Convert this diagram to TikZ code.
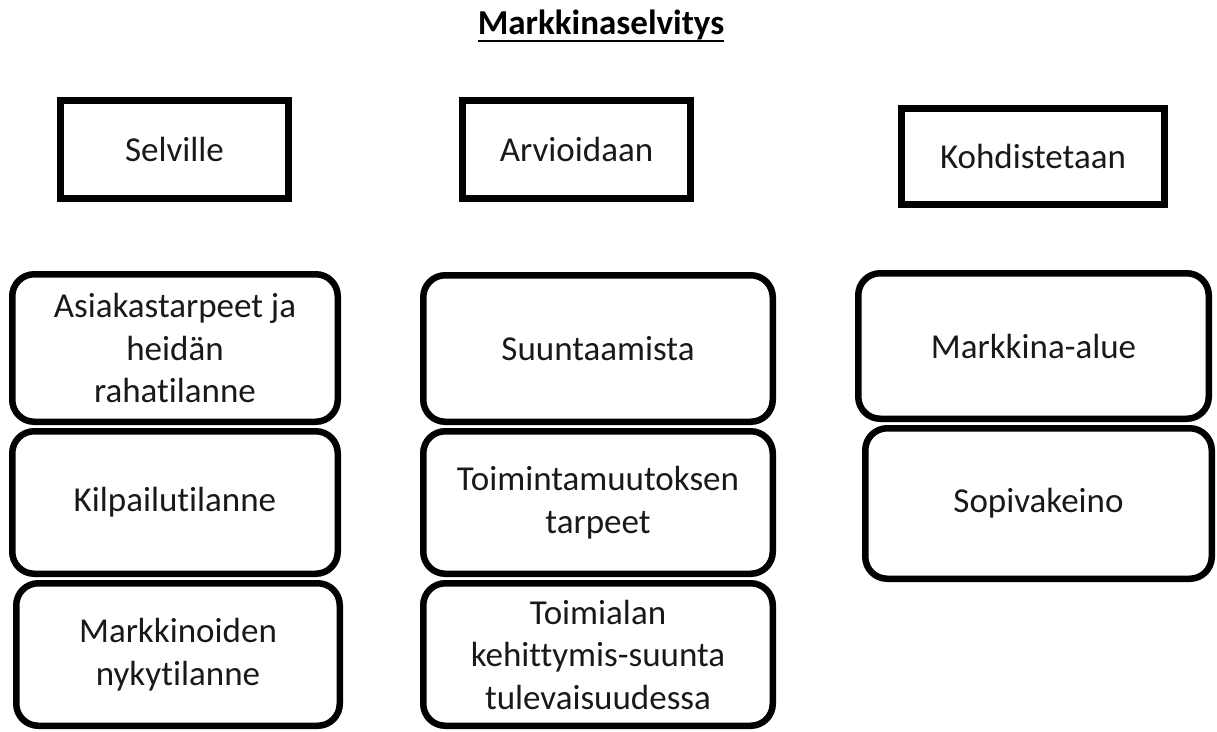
\documentclass[tikz,border=0pt]{standalone}
\usepackage{fontspec}
\setmainfont{Carlito}[Ligatures=NoCommon]
\usetikzlibrary{calc}
\begin{document}
\begin{tikzpicture}[x=1pt,y=-1pt,
  lbl/.style={font=\fontsize{35}{42.5}\selectfont, text=black!90, align=center, inner sep=0pt},
  headbox/.style={lbl, draw=black, line width=7pt},
  itembox/.style={lbl, draw=black, line width=6.5pt, rounded corners=22pt}]
\useasboundingbox (0,0) rectangle (1217,731);

% title with underline
\node[font=\fontsize{35}{42}\selectfont\bfseries, anchor=base, inner sep=0pt] (title) at (601,34) {Markkinaselvitys};
\draw[line width=2.5pt] ($(title.base west)+(0,7)$) -- ($(title.base east)+(0,7)$);

% column headers
\node[headbox, minimum width=228pt, minimum height=98pt] (h1) at (174.5,149.5) {Selville};
\node[headbox, minimum width=228pt, minimum height=98pt] (h2) at (576.5,149.5) {Arvioidaan};
\node[headbox, minimum width=263pt, minimum height=96pt] (h3) at (1033,156.5) {Kohdistetaan};

% first column
\node[itembox, minimum width=325.5pt, minimum height=147.5pt] (a1) at (175,348) {Asiakastarpeet ja\\heidän\\rahatilanne};
\node[itembox, minimum width=325.5pt, minimum height=142.5pt] (a2) at (175,502.5) {Kilpailutilanne};
\node[itembox, minimum width=323.5pt, minimum height=142.5pt] (a3) at (178,654.5) {Markkinoiden\\nykytilanne};

% second column
\node[itembox, minimum width=349.5pt, minimum height=146.5pt] (b1) at (598,348.5) {Suuntaamista};
\node[itembox, minimum width=349.5pt, minimum height=142.5pt] (b2) at (598,502.5) {Toimintamuutoksen\\tarpeet};
\node[itembox, minimum width=349.5pt, minimum height=142.5pt] (b3) at (598,654.5) {Toimialan\\kehittymis-suunta\\tulevaisuudessa};

% third column
\node[itembox, minimum width=350.5pt, minimum height=145.5pt] (c1) at (1033.5,346) {Markkina-alue};
\node[itembox, minimum width=346.5pt, minimum height=150.5pt] (c2) at (1038.5,503.5) {Sopivakeino};
\end{tikzpicture}
\end{document}
